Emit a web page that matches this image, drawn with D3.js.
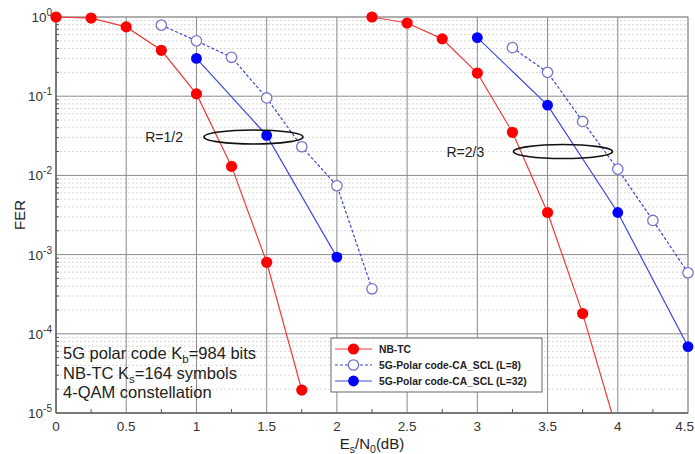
<!DOCTYPE html>
<html><head><meta charset="utf-8">
<script src="https://cdn.jsdelivr.net/npm/d3@7"></script>
<style>body{margin:0;background:#fff}svg{display:block;font-family:"Liberation Sans",Arial,sans-serif}</style>
</head><body><svg id="c" width="695" height="454"></svg>
<script>
// ---- data ----
const snrNB12 = [0, 0.25, 0.5, 0.75, 1.0, 1.25, 1.5, 1.75];
const ferNB12 = [1.0, 0.97, 0.75, 0.38, 0.107, 0.013, 0.0008, 1.95e-5];
const snrNB23 = [2.25, 2.5, 2.75, 3.0, 3.25, 3.5, 3.75, 4.0];
const ferNB23 = [1.0, 0.84, 0.53, 0.196, 0.035, 0.0034, 1.8e-4, 5.5e-6];
const snrL8_12 = [0.75, 1.0, 1.25, 1.5, 1.75, 2.0, 2.25];
const ferL8_12 = [0.79, 0.50, 0.31, 0.095, 0.023, 0.0074, 3.7e-4];
const snrL32_12 = [1.0, 1.5, 2.0];
const ferL32_12 = [0.30, 0.032, 9.3e-4];
const snrL8_23 = [3.25, 3.5, 3.75, 4.0, 4.25, 4.5];
const ferL8_23 = [0.41, 0.20, 0.048, 0.012, 0.0027, 5.9e-4];
const snrL32_23 = [3.0, 3.5, 4.0, 4.5];
const ferL32_23 = [0.55, 0.077, 0.0034, 6.9e-5];
const xTicks = [0, 0.5, 1, 1.5, 2, 2.5, 3, 3.5, 4, 4.5];
const xTickLabels = ["0", "0.5", "1", "1.5", "2", "2.5", "3", "3.5", "4", "4.5"];
const yExps = [0, -1, -2, -3, -4, -5];
const legendLabels = ["NB-TC", "5G-Polar code-CA_SCL (L=8)", "5G-Polar code-CA_SCL (L=32)"];
const rateLabels = ["R=1/2", "R=2/3"];
const rateEllipseX = [1.406, 3.61];
const rateEllipseY = [0.0306, 0.0200];
const rateTextX = [0.635, 2.78];
const infoLines = [["5G polar code K", "b", "=984 bits"], ["NB-TC K", "s", "=164 symbols"], ["4-QAM constellation", "", ""]];

// ---- layout ----
const L = 56, R = 688, T = 17, B = 413;
const svg = d3.select("#c");
const x = d3.scaleLinear().domain([0, 4.5]).range([L, R]);
const y = d3.scaleLog().domain([1e-5, 1]).range([B, T]);

// minor grid
const minorY = [];
for (let e = -5; e < 0; e++) for (let m = 2; m <= 9; m++) minorY.push(m * Math.pow(10, e));
svg.append("g").selectAll("line").data(minorY).join("line")
  .attr("x1", L).attr("x2", R).attr("y1", d => y(d)).attr("y2", d => y(d))
  .attr("stroke", "#d8d8d8").attr("stroke-width", 1).attr("stroke-dasharray", "2,2");
// major grid
svg.append("g").selectAll("line").data(xTicks).join("line")
  .attr("x1", d => x(d)).attr("x2", d => x(d)).attr("y1", T).attr("y2", B)
  .attr("stroke", "#8a8a8a").attr("stroke-width", 1);
svg.append("g").selectAll("line").data(yExps).join("line")
  .attr("x1", L).attr("x2", R).attr("y1", d => y(Math.pow(10, d))).attr("y2", d => y(Math.pow(10, d)))
  .attr("stroke", "#8a8a8a").attr("stroke-width", 1);
// frame
svg.append("rect").attr("x", L).attr("y", T).attr("width", R - L).attr("height", B - T)
  .attr("fill", "none").attr("stroke", "#999");
svg.append("line").attr("x1", L).attr("x2", L).attr("y1", T).attr("y2", B).attr("stroke", "#444");
svg.append("line").attr("x1", L).attr("x2", R).attr("y1", B).attr("y2", B).attr("stroke", "#444");
// minor ticks
const xMinor = d3.range(0.25, 4.5, 0.5);
svg.append("g").selectAll("line").data(xMinor).join("line")
  .attr("x1", d => x(d)).attr("x2", d => x(d)).attr("y1", B).attr("y2", B - 4).attr("stroke", "#555");
svg.append("g").selectAll("line").data(minorY).join("line")
  .attr("x1", L).attr("x2", L + 3).attr("y1", d => y(d)).attr("y2", d => y(d)).attr("stroke", "#555");

// tick labels
svg.append("g").selectAll("text").data(xTicks).join("text")
  .attr("x", (d, i) => i === xTicks.length - 1 ? 694 : x(d)).attr("y", B + 18)
  .attr("text-anchor", (d, i) => i === xTicks.length - 1 ? "end" : "middle")
  .attr("font-size", 13.5).attr("fill", "#333").text((d, i) => xTickLabels[i]);
const yl = svg.append("g").selectAll("text").data(yExps).join("text")
  .attr("x", 52).attr("y", d => y(Math.pow(10, d)) + 5).attr("text-anchor", "end")
  .attr("font-size", 13.5).attr("fill", "#333");
yl.append("tspan").text("10");
yl.append("tspan").attr("dy", -6).attr("font-size", 10).text(d => d === 0 ? "0" : "-" + (-d));

// axis titles
svg.append("text").attr("transform", "translate(25," + (T + B) / 2 + ") rotate(-90)")
  .attr("text-anchor", "middle").attr("font-size", 15).attr("fill", "#222").text("FER");
const xt = svg.append("text").attr("x", x(2.25)).attr("y", 449).attr("text-anchor", "middle")
  .attr("font-size", 15).attr("fill", "#222");
xt.append("tspan").text("E");
xt.append("tspan").attr("dy", 4).attr("font-size", 10.5).text("s");
xt.append("tspan").attr("dy", -4).text("/N");
xt.append("tspan").attr("dy", 4).attr("font-size", 10.5).text("0");
xt.append("tspan").attr("dy", -4).text("(dB)");

// clip
svg.append("clipPath").attr("id", "clip").append("rect")
  .attr("x", 0).attr("y", 0).attr("width", 695).attr("height", B);
const plot = svg.append("g").attr("clip-path", "url(#clip)");

const line = d3.line().x(d => x(d[0])).y(d => y(d[1]));
const zip = (a, b) => a.map((v, i) => [v, b[i]]);

const series = [
  {d: zip(snrNB12, ferNB12), type: 0}, {d: zip(snrNB23, ferNB23), type: 0},
  {d: zip(snrL8_12, ferL8_12), type: 1}, {d: zip(snrL8_23, ferL8_23), type: 1},
  {d: zip(snrL32_12, ferL32_12), type: 2}, {d: zip(snrL32_23, ferL32_23), type: 2}
];
const lineStyle = [
  {stroke: "#f03a3a", dash: null, w: 1.2},
  {stroke: "#3a48d0", dash: "3,2", w: 1.2},
  {stroke: "#3a48e0", dash: null, w: 1.2}
];
series.forEach(s => {
  const st = lineStyle[s.type];
  plot.append("path").attr("d", line(s.d)).attr("fill", "none")
    .attr("stroke", st.stroke).attr("stroke-width", st.w).attr("stroke-dasharray", st.dash);
});
function marker(g, type, cx, cy) {
  if (type === 0) g.append("circle").attr("cx", cx).attr("cy", cy).attr("r", 5.6).attr("fill", "#ff0000");
  else if (type === 1) g.append("circle").attr("cx", cx).attr("cy", cy).attr("r", 5.2)
    .attr("fill", "#fff").attr("stroke", "#7474cc").attr("stroke-width", 1.3);
  else g.append("circle").attr("cx", cx).attr("cy", cy).attr("r", 5.4).attr("fill", "#0000ff");
}
series.forEach(s => s.d.forEach(p => { if (p[1] >= 1e-5) marker(plot, s.type, x(p[0]), y(p[1])); }));

// rate annotations
rateLabels.forEach((t, i) => {
  svg.append("ellipse").attr("cx", x(rateEllipseX[i])).attr("cy", y(rateEllipseY[i]))
    .attr("rx", 49.5).attr("ry", 7).attr("fill", "none").attr("stroke", "#111").attr("stroke-width", 1.6);
  svg.append("text").attr("x", x(rateTextX[i])).attr("y", y(rateEllipseY[i]) + 5)
    .attr("font-size", 14).attr("fill", "#222").text(t);
});

// info text
infoLines.forEach((ln, i) => {
  const t = svg.append("text").attr("x", 63).attr("y", 359 + i * 19.5).attr("font-size", 16.5).attr("fill", "#222");
  t.append("tspan").text(ln[0]);
  if (ln[1]) { t.append("tspan").attr("dy", 4).attr("font-size", 11.5).text(ln[1]);
    t.append("tspan").attr("dy", -4).text(ln[2]); }
});

// legend
const lg = svg.append("g");
lg.append("rect").attr("x", 331).attr("y", 338).attr("width", 211).attr("height", 54)
  .attr("fill", "#fff").attr("stroke", "#666").attr("stroke-width", 1);
legendLabels.forEach((t, i) => {
  const yy = 349 + i * 16;
  const st = lineStyle[i];
  lg.append("line").attr("x1", 335).attr("x2", 372).attr("y1", yy).attr("y2", yy)
    .attr("stroke", st.stroke).attr("stroke-width", st.w).attr("stroke-dasharray", st.dash);
  marker(lg, i, 353.5, yy);
  lg.append("text").attr("x", 379).attr("y", yy + 3.5).attr("font-size", 10.3).attr("font-weight", "bold")
    .attr("fill", "#222").text(t);
});
</script></body></html>
